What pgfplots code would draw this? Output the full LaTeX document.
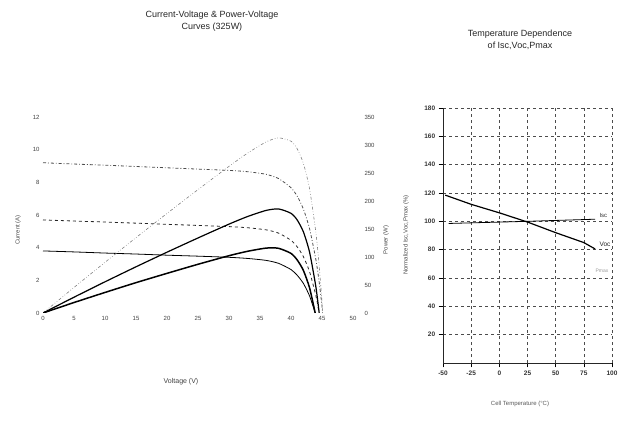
\documentclass[border=0pt]{standalone}
\usepackage{pgfplots}
\pgfplotsset{compat=1.18}
\usepackage{pgfplotstable}
\usepackage{fontspec}
\setmainfont{Liberation Sans}

% I-V and P-V data, three irradiance levels
\pgfplotstableread{
V I P
0 9.20 0
5 9.12 45.6
10 9.05 90.5
15 8.97 134.6
20 8.89 177.8
25 8.81 220.3
30 8.73 261.9
33 8.65 285.5
36 8.49 305.6
38 8.23 312.7
40 7.67 306.8
41 7.15 293.2
42 6.36 267.1
43 5.15 221.5
44 3.29 144.8
44.5 2.02 89.9
45 0.43 19.4
45.07 0 0
}\curveA
\pgfplotstableread{
V I P
0 5.70 0
5 5.63 28.2
10 5.57 55.7
15 5.50 82.5
20 5.43 108.6
25 5.36 134.0
30 5.29 158.7
33 5.22 172.3
36 5.09 183.2
38 4.89 185.8
40 4.45 178.0
41 4.05 166.1
42 3.45 144.9
43 2.52 108.4
44 1.08 47.5
44.5 0.10 4.5
44.54 0 0
}\curveB
\pgfplotstableread{
V I P
0 3.80 0
5 3.74 18.7
10 3.67 36.7
15 3.61 54.2
20 3.54 70.8
25 3.48 87.0
30 3.41 102.3
33 3.34 110.2
36 3.22 115.9
38 3.04 115.5
40 2.66 106.4
41 2.31 94.7
42 1.81 76.0
43 1.04 44.7
43.9 0 0
}\curveC

\begin{document}
\begin{tikzpicture}
\useasboundingbox (0pt,0pt) rectangle (628pt,428pt);
\pgfplotsset{
  every tick label/.append style={font=\fontsize{6}{7}\selectfont, text=black!75},
  /pgf/number format/assume math mode=true,
}
% ---- left chart: current axis
\begin{axis}[
  at={(43pt,115pt)}, anchor=south west,
  scale only axis, width=310pt, height=196pt,
  xmin=0, xmax=50, ymin=0, ymax=12,
  xtick={0,5,...,50}, ytick={0,2,...,12},
  axis line style={draw=none}, tick style={draw=none},
  clip=false,
]
\addplot[black!70, thick, dash dot, smooth, tension=0.4] table[x=V,y=I] {\curveA};
\addplot[black!85, thick, dashed, smooth, tension=0.4] table[x=V,y=I] {\curveB};
\addplot[black, thick, smooth, tension=0.4] table[x=V,y=I] {\curveC};
\end{axis}
% ---- left chart: power axis
\begin{axis}[
  at={(43pt,115pt)}, anchor=south west,
  scale only axis, width=310pt, height=196pt,
  xmin=0, xmax=50, ymin=0, ymax=350,
  axis x line=none, axis y line*=right,
  ytick={0,50,...,350},
  yticklabel style={xshift=8pt},
  axis line style={draw=none}, tick style={draw=none},
]
\addplot[black!50, semithick, dash dot dot, smooth, tension=0.4] table[x=V,y=P] {\curveA};
\addplot[black, very thick, smooth, tension=0.4] table[x=V,y=P] {\curveB};
\addplot[black, line width=1.5pt, smooth, tension=0.4] table[x=V,y=P] {\curveC};
\end{axis}
\node[font=\fontsize{9}{12}\selectfont, text=black!85, align=center] at (212pt,407pt) {Current-Voltage \& Power-Voltage\\Curves (325W)};
\node[font=\fontsize{7}{8}\selectfont, text=black!75] at (181pt,46pt) {Voltage (V)};
\node[font=\fontsize{6}{7}\selectfont, text=black!70, rotate=90] at (18pt,198pt) {Current (A)};
\node[font=\fontsize{6}{7}\selectfont, text=black!70, rotate=90] at (386pt,188pt) {Power (W)};

% ---- right chart: temperature dependence
\begin{axis}[
  at={(443pt,65pt)}, anchor=south west,
  scale only axis, width=169pt, height=255pt,
  xmin=-50, xmax=100, ymin=0, ymax=180,
  xtick={-50,-25,0,25,50,75,100},
  ytick={20,40,...,180},
  axis lines=left, axis line style={-, black!85, thick},
  grid=major, grid style={black!70, dashed, thin},
  tick style={black, thin}, tick align=outside,
  every tick label/.append style={font=\fontsize{6.5}{7}\selectfont\bfseries, text=black!80},
  clip=false,
]
\addplot[black, thick] coordinates {(-45,98.5) (25,100) (85,101.5)};
\addplot[black, line width=1.2pt] coordinates {
  (-48,118.5) (-25,112) (0,106) (25,99.5) (50,92) (75,85) (85,80.5)};
\end{axis}
\node[font=\fontsize{6}{7}\selectfont, text=black!80, anchor=west] at (596pt,213pt) {Isc};
\node[font=\fontsize{6.5}{7}\selectfont, text=black!85, anchor=west] at (596pt,184pt) {Voc};
\node[font=\fontsize{5}{6}\selectfont, text=black!40, anchor=west] at (592pt,157pt) {Pmax};
\node[font=\fontsize{9}{12}\selectfont, text=black!85, align=center] at (520pt,388pt) {Temperature Dependence\\of Isc,Voc,Pmax};
\node[font=\fontsize{6}{7}\selectfont, text=black!65] at (520pt,24pt) {Cell Temperature (\textdegree C)};
\node[font=\fontsize{6}{7}\selectfont, text=black!70, rotate=90] at (406pt,193pt) {Normalized Isc,Voc,Pmax (\%)};
\end{tikzpicture}
\end{document}
